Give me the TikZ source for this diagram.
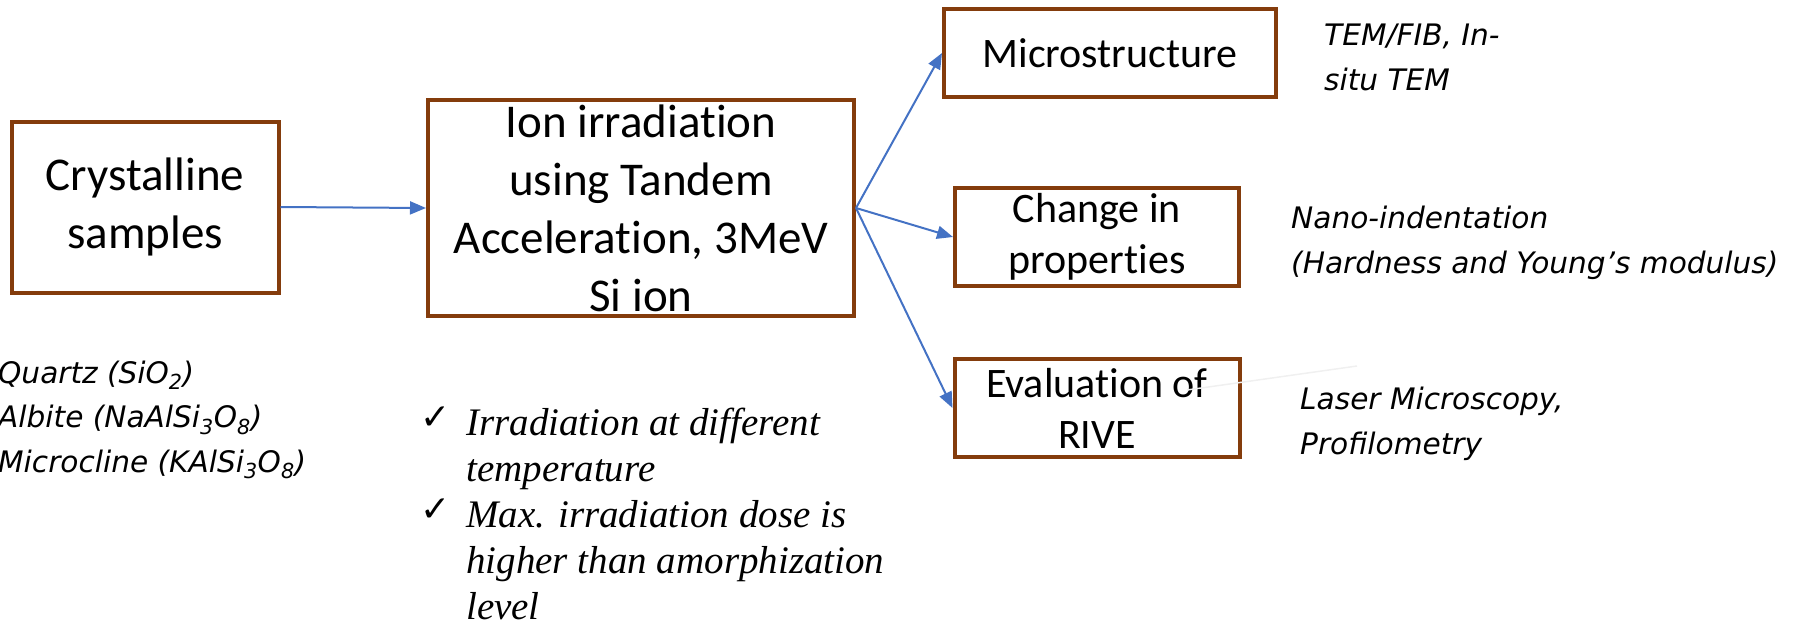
\documentclass[tikz,border=0pt]{standalone}
\usepackage{fontspec}
\setmainfont{Carlito}[Ligatures=NoCommon]
\newfontfamily\notefont{DejaVu Sans}
\newfontfamily\tickfont{DejaVu Sans}
\newfontfamily\listfont{Liberation Serif}
\usetikzlibrary{arrows.meta}
\definecolor{boxbrown}{RGB}{132,60,12}
\definecolor{linkblue}{RGB}{68,114,196}

\begin{document}
\begin{tikzpicture}[x=1pt,y=-1pt,
    box/.style={draw=boxbrown, line width=4pt, inner sep=0pt, align=center},
    bigbox/.style={box, font=\fontsize{47}{58}\selectfont},
    smallbox/.style={box, font=\fontsize{42}{51}\selectfont},
    link/.style={-{Triangle[length=16pt,width=13pt]}, linkblue, line width=2pt},
    note/.style={anchor=base west, inner sep=0pt, align=left,
        font=\notefont\itshape\fontsize{29.6}{44.5}\selectfont}]
    \useasboundingbox (0,0) rectangle (1802,624);

    % process boxes
    \node[bigbox, minimum width=267pt, minimum height=171pt] (samples) at (145,207) {Crystalline\\samples};
    \node[bigbox, minimum width=426pt, minimum height=216pt] (ion) at (641,208)
        {Ion irradiation\\using Tandem\\Acceleration, 3MeV\\Si ion};
    \node[smallbox, minimum width=332pt, minimum height=88pt] (micro) at (1110,53) {Microstructure};
    \node[smallbox, minimum width=284pt, minimum height=98pt] (props) at (1097,237) {Change in\\properties};
    \node[smallbox, minimum width=285pt, minimum height=98pt] (rive) at (1097,408) {Evaluation of\\RIVE};

    \draw[link] (samples.east) -- (ion.west);
    \draw[link] (ion.east) -- (micro.west);
    \draw[link] (ion.east) -- (props.west);
    \draw[link] (ion.east) -- (rive.west);

    % notes (base = last line)
    \node[note] (notemicro) at (1324,90) {TEM/FIB, In-\\situ TEM};
    \node[note] (noteprops) at (1291,273) {Nano-indentation\\(Hardness and Young’s modulus)};
    \node[note] (noterive) at (1300,454) {Laser Microscopy,\\Profilometry};
    \node[note] (minerals) at (-2,472)
        {Quartz (SiO\textsubscript{2})\\Albite (NaAlSi\textsubscript{3}O\textsubscript{8})\\Microcline (KAlSi\textsubscript{3}O\textsubscript{8})};

    \node[anchor=base west, inner sep=0pt, font=\listfont\itshape\fontsize{39}{46}\selectfont] (checks) at (420,435)
        {\begin{tabular}[t]{@{}l@{}l@{}}
        \makebox[46pt][l]{\raisebox{6pt}{\tickfont\upshape\fontsize{36}{36}\selectfont ✓}} & Irradiation at different\\
        & temperature\\
        \makebox[46pt][l]{\raisebox{6pt}{\tickfont\upshape\fontsize{36}{36}\selectfont ✓}} & Max. irradiation dose is\\
        & higher than amorphization\\
        & level
        \end{tabular}};

    \coordinate (smudgea) at (1187,390);
    \coordinate (smudgeb) at (1357,366);
    \draw[gray!12, line width=1.5pt] (smudgea) -- (smudgeb);
\end{tikzpicture}
\end{document}
